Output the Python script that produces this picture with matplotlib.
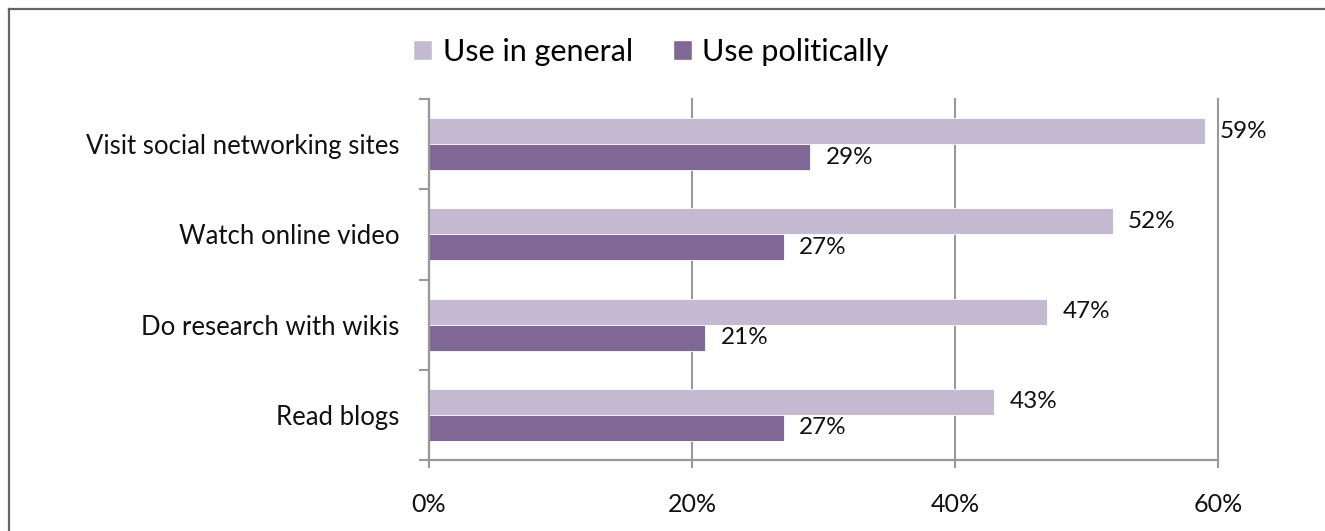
import matplotlib
matplotlib.use("Agg")
import matplotlib.pyplot as plt
from matplotlib.lines import Line2D
from matplotlib.patches import Patch
from matplotlib.ticker import FixedLocator, PercentFormatter

plt.rcParams['font.family'] = ['Lato', 'DejaVu Sans']

categories = ["Visit social networking sites", "Watch online video",
              "Do research with wikis", "Read blogs"]
use_general = [59, 52, 47, 43]
use_political = [29, 27, 21, 27]
series_names = ["Use in general", "Use politically"]
x_ticks = [0, 20, 40, 60]

light = "#C4BBD3"
dark = "#7F6796"
grid_gray = "#999999"

W, H = 1325, 531
fig = plt.figure(figsize=(W / 100, H / 100), dpi=100)
ax = fig.add_axes([429 / W, 1 - 460 / H, (1218 - 429) / W, (460 - 99) / H])

bar_h = 0.289
ypos = list(range(len(categories)))
b1 = ax.barh([y - bar_h / 2 for y in ypos], use_general, height=bar_h,
             color=light, edgecolor="white", linewidth=0.6)
b2 = ax.barh([y + bar_h / 2 for y in ypos], use_political, height=bar_h,
             color=dark, edgecolor="white", linewidth=0.6)

for bars, vals in ((b1, use_general), (b2, use_political)):
    ax.bar_label(bars, labels=[f"{v}%" for v in vals], padding=11,
                 fontsize=17.5, color="#111111")

ax.set_xlim(0, 60)
ax.set_ylim(len(categories) - 0.5, -0.5)

ax.xaxis.set_major_locator(FixedLocator(x_ticks))
ax.xaxis.set_major_formatter(PercentFormatter(decimals=0))
ax.set_yticks(ypos)
ax.set_yticklabels(categories)
ax.yaxis.set_minor_locator(FixedLocator([y - 0.5 for y in range(len(categories) + 1)]))

ax.tick_params(axis="y", which="major", length=0, pad=21, labelsize=18.5, labelcolor="#111111")
ax.tick_params(axis="y", which="minor", length=7.2, width=1.5, color=grid_gray, direction="out")
ax.tick_params(axis="x", which="major", length=5.8, width=1.5, color=grid_gray, pad=18,
               labelsize=18, labelcolor="#111111")

for side in ("top", "right"):
    ax.spines[side].set_visible(False)
for side in ("left", "bottom"):
    ax.spines[side].set_color(grid_gray)
    ax.spines[side].set_linewidth(1.6)

ax.grid(axis="x", color=grid_gray, linewidth=1.5)
for gl in ax.get_xgridlines():
    gl.set_clip_on(False)
ax.set_axisbelow(True)

handles = [Patch(facecolor=light, edgecolor="white"), Patch(facecolor=dark, edgecolor="white")]
fig.legend(handles, series_names, loc="center", bbox_to_anchor=(651 / W, 1 - 52 / H),
           ncol=2, frameon=False, fontsize=22, handlelength=0.62, handleheight=0.62,
           handletextpad=0.35, columnspacing=1.3)

# frame lines along the left and top edges
fig.add_artist(Line2D([9 / W, 9 / W], [0, 1 - 9 / H], transform=fig.transFigure,
                      color="#666666", linewidth=1.6))
fig.add_artist(Line2D([9 / W, 1], [1 - 9 / H, 1 - 9 / H], transform=fig.transFigure,
                      color="#666666", linewidth=1.6))

fig.savefig("out.png", dpi=100)
